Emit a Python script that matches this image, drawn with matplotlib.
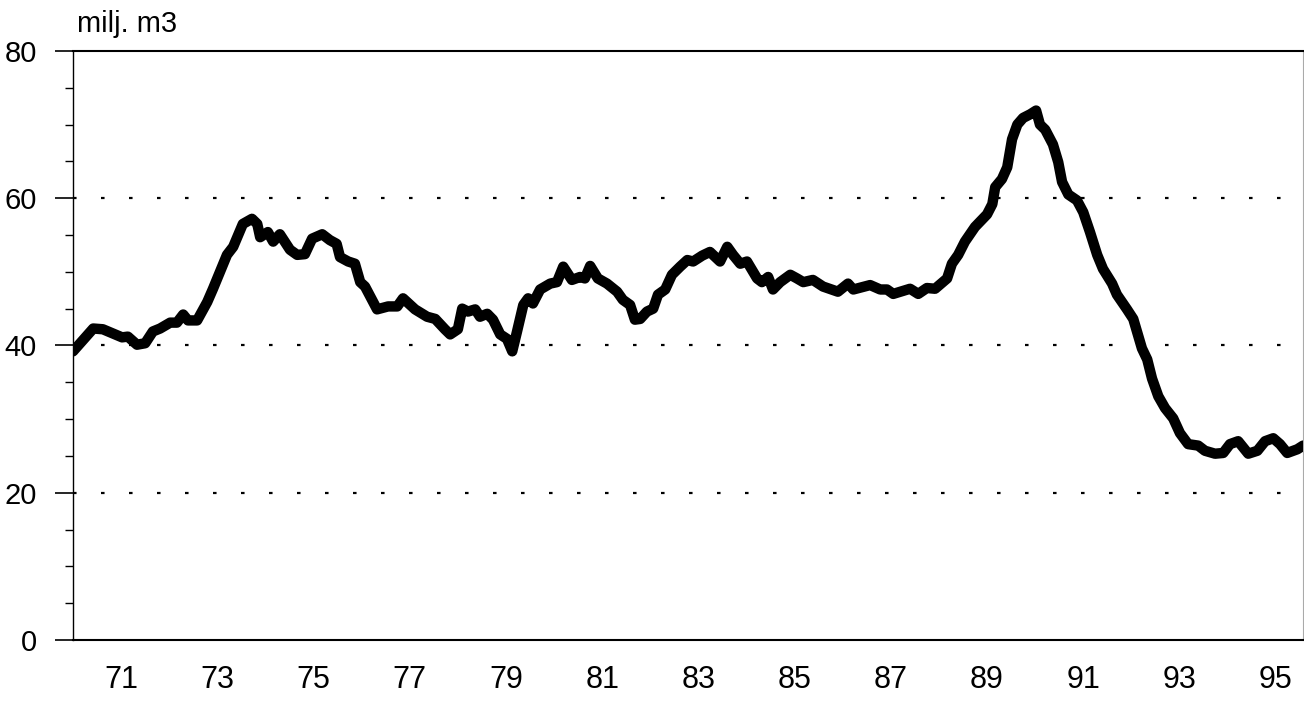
import matplotlib
matplotlib.use("Agg")
import matplotlib.pyplot as plt
from matplotlib.ticker import MultipleLocator

plt.rcParams["font.family"] = ["Liberation Sans Narrow", "Liberation Sans", "DejaVu Sans"]

# values (year, milj. m3)
years = [70.00, 70.42, 70.62, 71.02, 71.14, 71.33, 71.50, 71.66, 71.81, 72.02,
         72.16, 72.29, 72.39, 72.58, 72.79, 72.91, 73.20, 73.33, 73.53, 73.72,
         73.83, 73.89, 74.05, 74.16, 74.30, 74.51, 74.66, 74.82, 74.97, 75.18,
         75.34, 75.48, 75.55, 75.72, 75.86, 75.97, 76.07, 76.32, 76.55, 76.74,
         76.86, 77.11, 77.36, 77.53, 77.73, 77.84, 78.00, 78.09, 78.21, 78.36,
         78.46, 78.61, 78.73, 78.88, 79.02, 79.13, 79.23, 79.36, 79.46, 79.56,
         79.71, 79.92, 80.06, 80.19, 80.37, 80.54, 80.64, 80.75, 80.91, 81.10,
         81.31, 81.43, 81.58, 81.68, 81.79, 81.93, 82.06, 82.16, 82.31, 82.45,
         82.62, 82.77, 82.89, 83.08, 83.24, 83.45, 83.60, 83.72, 83.87, 84.01,
         84.22, 84.32, 84.45, 84.55, 84.70, 84.91, 85.05, 85.18, 85.38, 85.59,
         85.90, 86.11, 86.22, 86.57, 86.78, 86.92, 87.05, 87.40, 87.57, 87.75,
         87.92, 88.17, 88.27, 88.40, 88.54, 88.75, 89.00, 89.11, 89.17, 89.31,
         89.42, 89.52, 89.63, 89.75, 89.90, 90.02, 90.10, 90.21, 90.37, 90.48,
         90.56, 90.69, 90.87, 91.00, 91.14, 91.29, 91.41, 91.60, 91.70, 91.91,
         92.04, 92.22, 92.33, 92.43, 92.56, 92.70, 92.87, 93.01, 93.18, 93.39,
         93.53, 93.74, 93.91, 94.05, 94.22, 94.43, 94.62, 94.78, 94.95, 95.09,
         95.24, 95.45, 95.57]
volume = [39.2, 42.3, 42.2, 41.1, 41.2, 40.1, 40.3, 41.9, 42.3, 43.1,
          43.1, 44.2, 43.4, 43.4, 45.9, 47.7, 52.3, 53.4, 56.5, 57.2,
          56.5, 54.7, 55.4, 54.1, 55.1, 53.0, 52.3, 52.4, 54.5, 55.1,
          54.3, 53.8, 52.0, 51.4, 51.1, 48.6, 48.0, 44.9, 45.3, 45.3,
          46.4, 44.9, 43.9, 43.6, 42.2, 41.5, 42.2, 45.0, 44.6, 44.9,
          43.9, 44.3, 43.5, 41.5, 40.9, 39.2, 41.9, 45.5, 46.4, 45.7,
          47.6, 48.4, 48.6, 50.7, 48.9, 49.3, 49.1, 50.8, 49.1, 48.4,
          47.3, 46.2, 45.5, 43.5, 43.6, 44.6, 45.0, 46.9, 47.6, 49.6,
          50.7, 51.6, 51.4, 52.2, 52.7, 51.4, 53.4, 52.3, 51.1, 51.4,
          49.1, 48.6, 49.3, 47.6, 48.6, 49.6, 49.1, 48.6, 48.9, 48.0,
          47.3, 48.4, 47.6, 48.2, 47.6, 47.6, 47.0, 47.7, 47.0, 47.8,
          47.7, 49.1, 51.1, 52.3, 54.1, 56.1, 57.8, 59.2, 61.5, 62.6,
          64.2, 68.0, 70.0, 70.9, 71.4, 71.9, 70.0, 69.3, 67.3, 64.9,
          62.2, 60.5, 59.7, 58.1, 55.4, 52.3, 50.4, 48.4, 46.9, 44.9,
          43.6, 39.6, 38.1, 35.5, 33.1, 31.5, 30.1, 28.1, 26.6, 26.4,
          25.7, 25.3, 25.4, 26.6, 27.0, 25.3, 25.7, 27.0, 27.4, 26.6,
          25.4, 25.9, 26.4]

xtick_years = list(range(71, 96, 2))
xtick_labels = [str(y) for y in xtick_years]
ytick_values = [0, 20, 40, 60, 80]

fig = plt.figure(figsize=(13.04, 7.03), dpi=100)
ax = fig.add_axes([0.056, 0.0896, 0.9433, 0.838])

for yv in [20, 40, 60]:
    ax.axhline(yv, color="black", linewidth=1.6, linestyle=(0, (1.6, 11)), zorder=1)

ax.plot(years, volume, color="black", linewidth=7.5, solid_joinstyle="round",
        solid_capstyle="round", zorder=3)

ax.set_xlim(70.0, 95.57)
ax.set_ylim(0, 80)

ax.set_xticks(xtick_years)
ax.set_xticklabels(xtick_labels)
ax.set_yticks(ytick_values)
ax.yaxis.set_minor_locator(MultipleLocator(5))

ax.tick_params(axis="x", length=0, pad=18, labelsize=22)
ax.tick_params(axis="y", which="major", length=13, width=1.2, pad=13, labelsize=21)
ax.tick_params(axis="y", which="minor", length=6, width=1.0)

ax.spines["left"].set_linewidth(1.0)
ax.spines["top"].set_linewidth(1.5)
ax.spines["bottom"].set_linewidth(1.5)
ax.spines["right"].set_color("#aaaaaa")
ax.spines["right"].set_linewidth(0.8)

fig.text(0.059, 0.966, "milj. m3", fontsize=21, ha="left", va="center")

fig.savefig("out.png", dpi=100, facecolor="white")
plt.close(fig)
